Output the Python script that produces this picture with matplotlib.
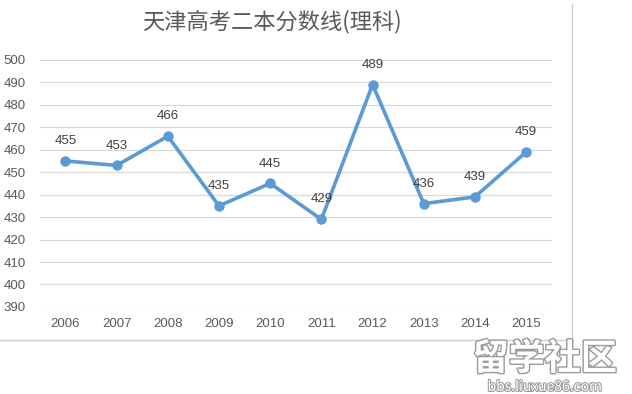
import matplotlib
matplotlib.use("Agg")
from matplotlib import pyplot as plt
from matplotlib.lines import Line2D
import matplotlib.patheffects as pe

plt.rcParams['font.family'] = ['Noto Sans CJK SC', 'DejaVu Sans']

years = ['2006', '2007', '2008', '2009', '2010', '2011', '2012', '2013', '2014', '2015']
scores = [455, 453, 466, 435, 445, 429, 489, 436, 439, 459]
y_ticks = list(range(390, 501, 10))
title = '天津高考二本分数线(理科)'

fig = plt.figure(figsize=(6.32, 3.94), dpi=100)
ax = fig.add_axes([0.063, 0.221, 0.81, 0.627])

x = list(range(len(years)))
ax.plot(x, scores, color='#5B9BD5', linewidth=2.6, marker='o', markersize=6.5,
        solid_capstyle='round', zorder=3)
for xi, v in zip(x, scores):
    ax.annotate(str(v), (xi, v), xytext=(0, 10), textcoords='offset points',
                ha='center', va='bottom', fontsize=9.5, color='#404040',
                family=['Liberation Sans', 'DejaVu Sans'])

ax.set_xlim(-0.5, len(years) - 0.5)
ax.set_ylim(390, 500)
ax.set_yticks(y_ticks)
ax.set_xticks(x)
ax.set_xticklabels(years)
ax.grid(axis='y', color='#D9D9D9', linewidth=0.9)
ax.set_axisbelow(True)
for s in ax.spines.values():
    s.set_visible(False)
ax.tick_params(length=0, labelsize=9.5, colors='#595959', pad=8)
for lab in ax.get_xticklabels() + ax.get_yticklabels():
    lab.set_family(['Liberation Sans', 'DejaVu Sans'])
ax.tick_params(axis='y', pad=10)

fig.text(0.43, 0.944, title, ha='center', va='center', fontsize=16, color='#595959')

# spreadsheet cell borders around the chart
fig.add_artist(Line2D([0.905, 0.905], [0.137, 0.99], transform=fig.transFigure,
                      color='#D0D0D0', linewidth=1))
fig.add_artist(Line2D([0.0, 0.905], [0.137, 0.137], transform=fig.transFigure,
                      color='#D0D0D0', linewidth=1))

# watermark
wm = fig.text(0.862, 0.088, '留学社区', ha='center', va='center', fontsize=26,
              color='white', fontweight='bold')
wm.set_path_effects([pe.withStroke(linewidth=2, foreground='#9A9A9A')])
wm2 = fig.text(0.862, 0.018, 'bbs.liuxue86.com', ha='center', va='center', fontsize=10,
               color='white')
wm2.set_path_effects([pe.withStroke(linewidth=1.5, foreground='#9A9A9A')])

fig.savefig('out.png', dpi=100)
